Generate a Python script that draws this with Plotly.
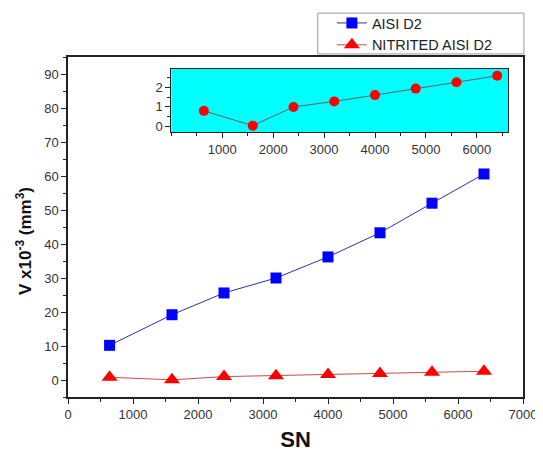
import plotly.graph_objects as go

sn = [640, 1600, 2400, 3200, 4000, 4800, 5600, 6400]
aisi_d2 = [10.2, 19.2, 25.6, 30.0, 36.2, 43.3, 52.0, 60.6]
nitrited = [0.8, 0.05, 1.0, 1.28, 1.6, 1.93, 2.25, 2.58]
inset_xticks = [1000, 2000, 3000, 4000, 5000, 6000]

font = "Arial, Liberation Sans, sans-serif"

fig = go.Figure()
fig.add_trace(go.Scatter(
    x=sn, y=aisi_d2, mode="lines+markers", name="AISI D2",
    line=dict(color="#3030b0", width=1),
    marker=dict(symbol="square", size=11, color="#0000ff"),
    xaxis="x", yaxis="y"))
fig.add_trace(go.Scatter(
    x=sn, y=nitrited, mode="lines+markers", name="NITRITED AISI D2",
    line=dict(color="#d04848", width=1),
    marker=dict(symbol="triangle-up", size=14, color="#ff0000"),
    xaxis="x", yaxis="y"))
fig.add_trace(go.Scatter(
    x=sn, y=nitrited, mode="lines+markers", showlegend=False,
    line=dict(color="#606060", width=1),
    marker=dict(symbol="circle", size=10, color="#ff0000"),
    xaxis="x2", yaxis="y2"))

fig.update_layout(
    width=535, height=444,
    margin=dict(l=60, r=20, t=49, b=55, autoexpand=False),
    paper_bgcolor="white", plot_bgcolor="rgba(0,0,0,0)",
    font=dict(family=font, size=13, color="#333"),
    showlegend=True,
    legend=dict(x=0.58, xanchor="left", y=1.147, yanchor="top",
                xref="paper", yref="paper", maxheight=300,
                bgcolor="rgba(0,0,0,0)", borderwidth=0,
                font=dict(size=14.5, color="#222"),
                tracegroupgap=0, itemsizing="trace"),
    xaxis=dict(domain=[0, 1], range=[0, 7000], tickmode="linear", tick0=0, dtick=1000,
               showgrid=False, zeroline=False, showline=True, linecolor="#222", linewidth=1.5,
               mirror=True, ticks="outside", ticklen=5, tickcolor="#222", automargin=False,
               minor=dict(dtick=500, ticks="outside", ticklen=3, tickcolor="#222"),
               title=dict(text="<b>SN</b>", font=dict(size=22, color="#111"), standoff=10)),
    yaxis=dict(domain=[0, 1], range=[-5, 95], tickmode="linear", tick0=0, dtick=10,
               showgrid=False, zeroline=False, showline=True, linecolor="#222", linewidth=1.5,
               mirror=True, ticks="outside", ticklen=5, tickcolor="#222", automargin=False,
               minor=dict(dtick=5, ticks="outside", ticklen=3, tickcolor="#222")),
    xaxis2=dict(domain=[0.227, 0.968], range=[0, 6620], anchor="y2",
                tickmode="array", tickvals=inset_xticks, automargin=False,
                showgrid=False, zeroline=False, showline=True, linecolor="#222", linewidth=1,
                mirror=True, ticks="outside", ticklen=5, tickcolor="#222",
                minor=dict(dtick=500, tick0=0, ticks="outside", ticklen=3, tickcolor="#222")),
    yaxis2=dict(domain=[0.779, 0.965], range=[-0.28, 2.93], anchor="x2",
                tickmode="linear", tick0=0, dtick=1, automargin=False,
                showgrid=False, zeroline=False, showline=True, linecolor="#222", linewidth=1,
                mirror=True, ticks="outside", ticklen=5, tickcolor="#222",
                minor=dict(dtick=0.5, ticks="outside", ticklen=3, tickcolor="#222")),
    shapes=[
        dict(type="rect", xref="x2 domain", yref="y2 domain", x0=0, x1=1, y0=0, y1=1,
             fillcolor="#00ffff", line=dict(width=0), layer="below"),
        dict(type="rect", xref="paper", yref="paper", x0=0.549, x1=1.002, y0=1.009, y1=1.129,
             fillcolor="white", line=dict(color="#999", width=1), layer="above"),
    ],
    annotations=[
        dict(text="<b>V x10<sup>-3</sup> (mm<sup>3</sup>)</b>", textangle=-90,
             xref="paper", yref="paper", x=-0.0967, y=0.459, showarrow=False,
             xanchor="center", yanchor="middle", font=dict(size=17, color="#111")),
    ],
)

fig.write_html("out.html")
